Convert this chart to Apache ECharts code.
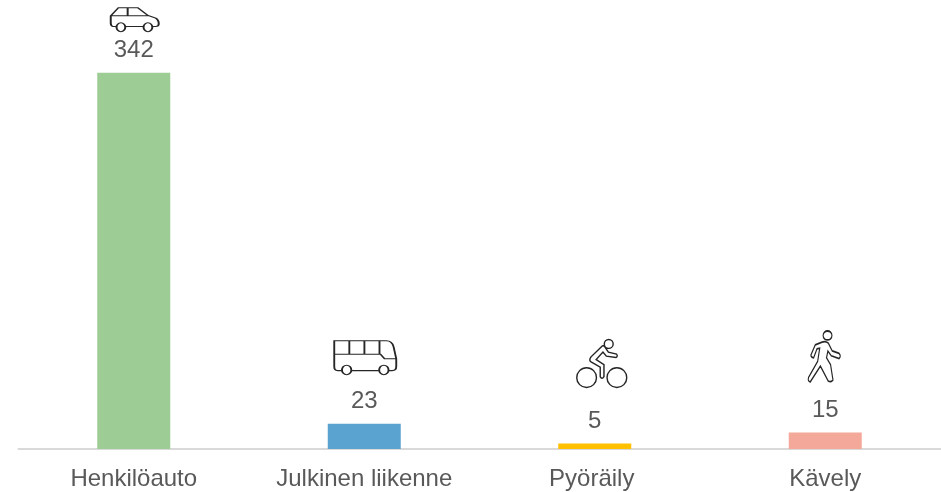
<!DOCTYPE html>
<html><head><meta charset="utf-8">
<style>html,body{margin:0;padding:0;background:#fff}#c{width:941px;height:492px}</style>
<script src="https://cdn.jsdelivr.net/npm/echarts@6/dist/echarts.min.js"></script>
</head><body><div id="c"></div>
<script>
const categories = ['Henkilöauto', 'Julkinen liikenne', 'Pyöräily', 'Kävely'];
const values = [342, 23, 5, 15];

const colors = ['#9dcc95', '#5aa2cf', '#ffc000', '#f4a89a'];
const circle = (x, y, r) => `M${x - r} ${y}A${r} ${r} 0 1 1 ${x + r} ${y}A${r} ${r} 0 1 1 ${x - r} ${y}Z`;
const icons = [
  { size: [48, 24], offset: [1, -53],
    path: 'M82 80L72 80Q65 78 65 70L65 48L88 24L145 24L175 47L198 55Q207 60 207 72Q207 80 198 80L189 80M108 80L161 80M65 48L175 47M115 24L115 48' + circle(95, 82, 13) + circle(175, 82, 13) },
  { size: [62, 34], offset: [1, -66],
    path: 'M67 120L55 120Q45 120 45 108L45 32L200 32Q218 32 222 50L230 85L230 108Q230 120 218 120L208 120M97 120L178 120M45 72L183 72L195 85L230 85M90 32L90 72M135 32L135 72M180 32L180 72' + circle(82, 118, 14) + circle(193, 118, 14) },
  { size: [50, 48], offset: [7, -80],
    path: 'M128 50L95 82Q88 92 95 97L122 112L122 140Q127 150 133 140L133 105L110 90L130 68L140 80L168 84Q175 80 170 74L146 68L135 52Q132 48 128 50Z' + circle(147, 44, 13) + circle(82, 143, 29) + circle(171, 143, 29) },
  { size: [32, 51], offset: [-1, -76],
    path: 'M125 52L105 60L92 90Q92 97 100 98L110 72L118 70L112 108L85 155Q82 165 90 168L120 122L143 165Q150 170 157 162L150 118L138 98L142 78L152 92L175 100Q182 92 175 85L155 78L143 55Q135 48 125 52Z' + circle(141, 33, 13) }
];

const chart = echarts.init(document.getElementById('c'), null, { renderer: 'canvas' });
chart.setOption({
  animation: false,
  textStyle: { fontFamily: '"Liberation Sans", Arial, sans-serif' },
  grid: { left: 18.5, right: 0.5, top: 0, bottom: 43, containLabel: false },
  xAxis: {
    type: 'category',
    data: categories.map((c, i) => i === 2 ? { value: c, textStyle: { padding: [0, 6, 0, 0] } } : c),
    axisTick: { show: false },
    axisLine: { lineStyle: { color: '#d9d9d9', width: 2 } },
    axisLabel: { color: '#595959', fontSize: 24, fontFamily: '"Liberation Sans", Arial, sans-serif', margin: 18, interval: 0 }
  },
  yAxis: { type: 'value', min: 0, max: 408, show: false, splitLine: { show: false } },
  series: [
    {
      type: 'bar', barWidth: 73,
      data: values.map((v, i) => ({ value: v, itemStyle: { color: colors[i] } })),
      label: { show: true, position: 'top', distance: 10, color: '#595959', fontSize: 24, fontFamily: '"Liberation Sans", Arial, sans-serif' }
    },
    {
      type: 'scatter', clip: false, silent: true,
      data: values.map((v, i) => ({
        value: [i, v],
        symbol: 'path://' + icons[i].path,
        symbolSize: icons[i].size,
        symbolOffset: icons[i].offset,
        symbolKeepAspect: false,
        itemStyle: { color: 'none', borderColor: '#262626', borderWidth: 1.4, opacity: 1 }
      }))
    }
  ]
});
</script></body></html>
